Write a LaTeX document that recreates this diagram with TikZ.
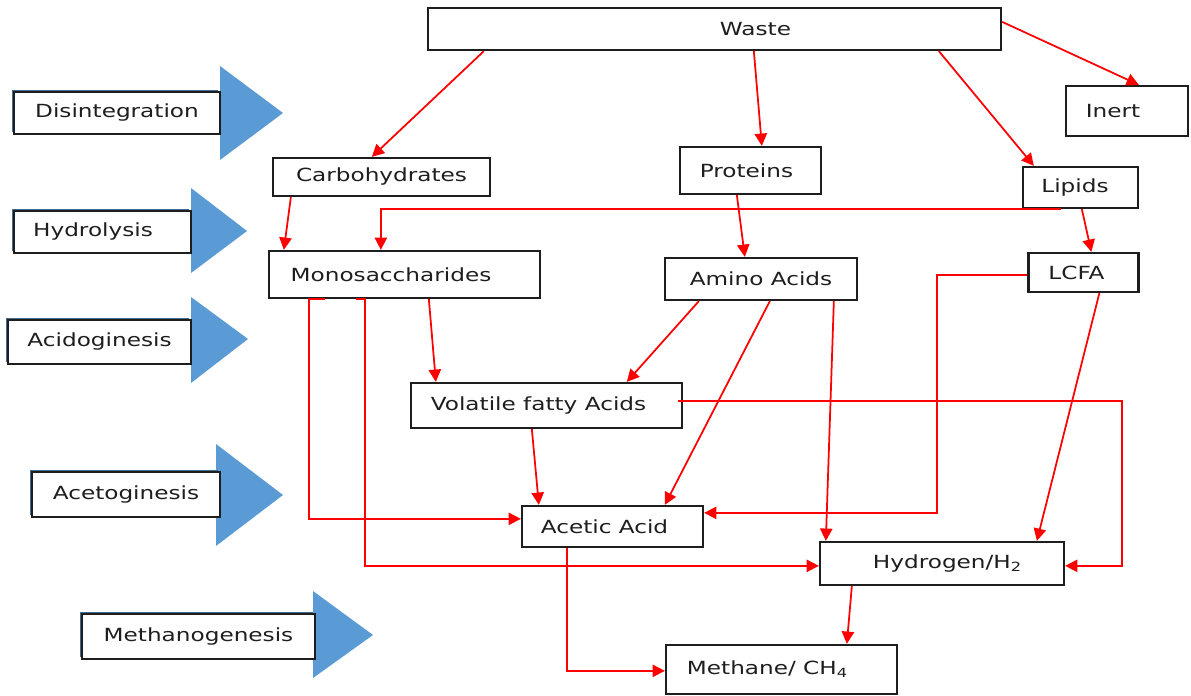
\documentclass[tikz,border=0pt]{standalone}
\usepackage{fontspec}
\setmainfont{DejaVu Sans}[FakeStretch=1.28]
\usetikzlibrary{arrows.meta,calc,shadows}
\definecolor{stageblue}{RGB}{91,155,213}
\definecolor{boxgray}{RGB}{30,30,30}
\newlength\px
\setlength\px{0.02cm}

\begin{document}
\begin{tikzpicture}[x=0.02cm, y=-0.02cm, >={Triangle[length=7pt,width=7pt]}, font=\fontsize{10.3}{12}\selectfont]
\tikzstyle{box}=[draw=boxgray, line width=1.3pt, fill=white, text=boxgray, inner sep=0pt]
\tikzstyle{stage}=[box, drop shadow={shadow xshift=-1.2pt, shadow yshift=1.2pt, fill=stageblue!70!black, opacity=1}]
\tikzstyle{boxsize}=[minimum width=#1*\px]
\tikzstyle{flow}=[->, draw=red, line width=1pt]
\useasboundingbox (0,0) rectangle (1191,696);

% stage arrows
\foreach \bx/\ty/\by/\ax/\ay in {220/66/160/283/113, 191/188/273/247/231, 191/297/383/248/339, 216/444/546/283/495, 313/591/678/373/635}
  \fill[stageblue] (\bx,\ty) -- (\ax,\ay) -- (\bx,\by) -- cycle;

\node[stage, boxsize=206, minimum height=42*\px] (dis)    at (117,113)   {Disintegration};
\node[stage, boxsize=177, minimum height=42*\px] (hyd)    at (102.5,232) {Hydrolysis\hspace*{19\px}};
\node[stage, boxsize=183, minimum height=44*\px] (acid)   at (99.5,342)  {Acidoginesis};
\node[stage, boxsize=188, minimum height=45*\px] (aceto)  at (126,494.5) {Acetoginesis};
\node[stage, boxsize=233, minimum height=45*\px] (methst) at (198.5,636.5) {Methanogenesis};

% products
\node[box, boxsize=573, minimum height=42*\px] (waste)  at (714.5,29)    {\hspace*{82\px}Waste};
\node[box, boxsize=122, minimum height=50*\px] (inert)  at (1127,111)    {Inert\hspace*{28\px}};
\node[box, boxsize=217, minimum height=38*\px] (carb)   at (381.5,177)   {Carbohydrates};
\node[box, boxsize=141, minimum height=47*\px] (prot)   at (750.5,170.5) {Proteins\hspace*{8\px}};
\node[box, boxsize=115, minimum height=41*\px] (lip)    at (1080.5,187.5) {Lipids\hspace*{11\px}};
\node[box, boxsize=271, minimum height=47*\px] (mono)   at (404.5,274.5) {Monosaccharides\hspace*{27\px}};
\node[box, boxsize=192, minimum height=42*\px] (amino)  at (761,279)     {Amino Acids};
\node[box, boxsize=110, minimum height=39*\px] (lcfa)   at (1083.5,272.5) {LCFA\hspace*{14\px}};
\node[box, boxsize=271, minimum height=45*\px] (vfa)    at (546.5,405.5) {Volatile fatty Acids\hspace*{16\px}};
\node[box, boxsize=181, minimum height=41*\px] (acetic) at (612.5,526.5) {Acetic Acid\hspace*{16\px}};
\node[box, boxsize=244, minimum height=43*\px] (hydro)  at (942,563.5)   {\hspace*{11\px}Hydrogen/H\textsubscript{2}};
\node[box, boxsize=231, minimum height=49*\px] (meth)   at (781.5,669.5) {Methane/ CH\textsubscript{4}\hspace*{28\px}};

\draw[flow] ($(waste.south west)+(57,0)$) -- ($(carb.north west)+(100,0)$);
\draw[flow] ($(waste.south west)+(327,0)$) -- ($(prot.north west)+(83,0)$);
\draw[flow] ($(waste.south west)+(512,0)$) -- ($(lip.north west)+(12,0)$);
\draw[flow] ($(waste.north east)+(0,15)$) -- ($(inert.north west)+(74,0)$);
\draw[flow] ($(carb.south west)+(19,0)$) -- ($(mono.north west)+(16,0)$);
\draw[flow] ($(lip.south west)+(39,0)$) -| ($(mono.north west)+(113,0)$);
\draw[flow] ($(lip.south west)+(60,0)$) -- ($(lcfa.north west)+(64,0)$);
\draw[flow] ($(prot.south west)+(58,0)$) -- ($(amino.north west)+(81,0)$);
\draw[flow] ($(mono.south west)+(161,0)$) -- ($(vfa.north west)+(26,0)$);
\draw[flow] ($(amino.south west)+(35,0)$) -- ($(vfa.north west)+(217,0)$);
\draw[flow] ($(amino.south west)+(106,0)$) -- ($(acetic.north west)+(144,0)$);
\draw[flow] ($(amino.south west)+(170,0)$) -- ($(hydro.north west)+(7,0)$);
\draw[flow] ($(mono.south west)+(57,0)$) -- ($(mono.south west)+(41,0)$) |- ($(acetic.north west)+(0,14)$);
\draw[flow] ($(mono.south west)+(88,0)$) -- ($(mono.south west)+(97,0)$) |- ($(hydro.north west)+(0,25)$);
\draw[flow] ($(vfa.north east)+(-5,19)$) -| ($(hydro.north east)+(57,25)$) -- ($(hydro.north east)+(0,25)$);
\draw[flow] ($(lcfa.north west)+(0,23)$) -| ($(acetic.north east)+(233,8)$) -- ($(acetic.north east)+(0,8)$);
\draw[flow] ($(lcfa.south west)+(72,0)$) -- ($(hydro.north west)+(218,0)$);
\draw[flow] ($(vfa.south west)+(122,0)$) -- ($(acetic.north west)+(18,0)$);
\draw[flow] ($(acetic.south west)+(46,0)$) |- ($(meth.north west)+(0,27)$);
\draw[flow] ($(hydro.south west)+(33,0)$) -- ($(meth.north west)+(182,0)$);
\end{tikzpicture}
\end{document}
